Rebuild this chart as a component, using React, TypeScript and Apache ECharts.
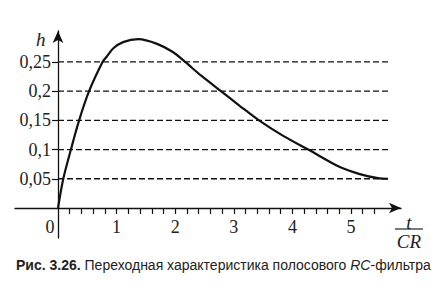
import React, { useEffect, useRef } from "react";
import * as echarts from "echarts";

// Step response h(t/CR)
const tValues = [0, 0.09, 0.22, 0.36, 0.53, 0.76, 0.83, 0.94, 1.11, 1.37, 1.69, 1.96, 2.17, 2.45, 2.78, 3.1, 3.43, 3.85, 4.27, 4.81, 5.15, 5.46, 5.63];
const hValues = [0, 0.05, 0.1, 0.15, 0.2, 0.25, 0.259, 0.273, 0.284, 0.289, 0.281, 0.267, 0.25, 0.226, 0.2, 0.175, 0.15, 0.123, 0.1, 0.07, 0.058, 0.051, 0.05];

const gridLevels = [0.05, 0.1, 0.15, 0.2, 0.25];
const gridLineEnd = 5.65;
const xLabelValues = [0, 1, 2, 3, 4, 5];
const xTickValues = [0.2, 0.4, 0.6, 0.8, 1, 1.2, 1.4, 1.6, 1.8, 2, 2.2, 2.4, 2.6, 2.8, 3, 3.2, 3.4, 3.6, 3.8, 4, 4.2, 4.4, 4.6, 4.8, 5, 5.2, 5.4];
const yLabelValues = [0.05, 0.1, 0.15, 0.2, 0.25];

const SERIF = "'Liberation Serif', 'DejaVu Serif', serif";
const SANS = "'Liberation Sans', Arial, sans-serif";

export default function App() {
  const ref = useRef<HTMLDivElement>(null);
  useEffect(() => {
    if (!ref.current) return;
    const chart = echarts.init(ref.current, null, { renderer: "svg" });
    const curve = tValues.map((t, i) => [t, hValues[i]]);
    const dashed = gridLevels.map((v) => ({
      type: "line",
      data: [[0, v], [gridLineEnd, v]],
      symbol: "none",
      silent: true,
      lineStyle: { color: "#111", width: 1.3, type: [6, 3] },
      z: 1,
    }));
    chart.setOption({
      animation: false,
      backgroundColor: "#fff",
      grid: { left: 15, right: 45, top: 31, bottom: 52, containLabel: false, outerBoundsMode: "none" },
      xAxis: {
        type: "value",
        position: "bottom",
        offset: -30,
        min: -0.734,
        max: 5.853,
        splitLine: { show: false },
        axisLine: {
          onZero: false,
          lineStyle: { color: "#111", width: 1.3 },
          symbol: ["none", "arrow"],
          symbolSize: [8, 12],
        },
        axisTick: { show: true, customValues: xTickValues, length: 6, lineStyle: { color: "#111", width: 1.2 } },
        axisLabel: {
          customValues: xLabelValues,
          margin: 10,
          fontFamily: SERIF,
          fontSize: 18,
          color: "#222",
          hideOverlap: false,
          formatter: (v: number) => (v === 0 ? "{z|0}" : String(v)),
          rich: { z: { padding: [0, 16, 0, 0], fontFamily: SERIF, fontSize: 18, color: "#222" } },
        },
      },
      yAxis: {
        type: "value",
        position: "left",
        offset: -43,
        min: -0.0514,
        max: 0.303,
        splitLine: { show: false },
        axisLine: {
          onZero: false,
          lineStyle: { color: "#111", width: 1.3 },
          symbol: ["none", "arrow"],
          symbolSize: [8, 12],
        },
        axisTick: { show: true, customValues: yLabelValues, length: 6, lineStyle: { color: "#111", width: 1.2 } },
        axisLabel: {
          customValues: yLabelValues,
          margin: 7,
          fontFamily: SERIF,
          fontSize: 18,
          color: "#222",
          formatter: (v: number) => String(v).replace(".", ","),
        },
      },
      graphic: [
        { type: "text", left: 36, top: 30, style: { text: "h", fontFamily: SERIF, fontStyle: "italic", fontSize: 19, fill: "#222" } },
        { type: "text", x: 409, y: 222, style: { text: "t", fontFamily: SERIF, fontStyle: "italic", fontSize: 19, fill: "#222", align: "center", verticalAlign: "middle" } },
        { type: "line", shape: { x1: 395, y1: 229, x2: 423, y2: 229 }, style: { stroke: "#222", lineWidth: 1.2 } },
        { type: "text", x: 409, y: 241, style: { text: "CR", fontFamily: SERIF, fontStyle: "italic", fontSize: 19, fill: "#222", align: "center", verticalAlign: "middle" } },
        {
          type: "text",
          x: 16,
          y: 265,
          style: {
            text: "{b|Рис. 3.26.} Переходная характеристика полосового {i|RC}-фильтра",
            fontFamily: SANS,
            fontSize: 14,
            fill: "#222",
            verticalAlign: "middle",
            rich: {
              b: { fontFamily: SANS, fontSize: 14, fontWeight: "bold", fill: "#222" },
              i: { fontFamily: SANS, fontSize: 14, fontStyle: "italic", fill: "#222" },
            },
          },
        },
      ],
      series: [
        ...dashed,
        {
          type: "line",
          data: curve,
          symbol: "none",
          smooth: 0.3,
          lineStyle: { color: "#111", width: 2.2 },
          z: 3,
        },
      ],
    });
    return () => chart.dispose();
  }, []);
  return <div ref={ref} style={{ position: "fixed", left: 0, top: 0, width: 446, height: 290 }} />;
}
